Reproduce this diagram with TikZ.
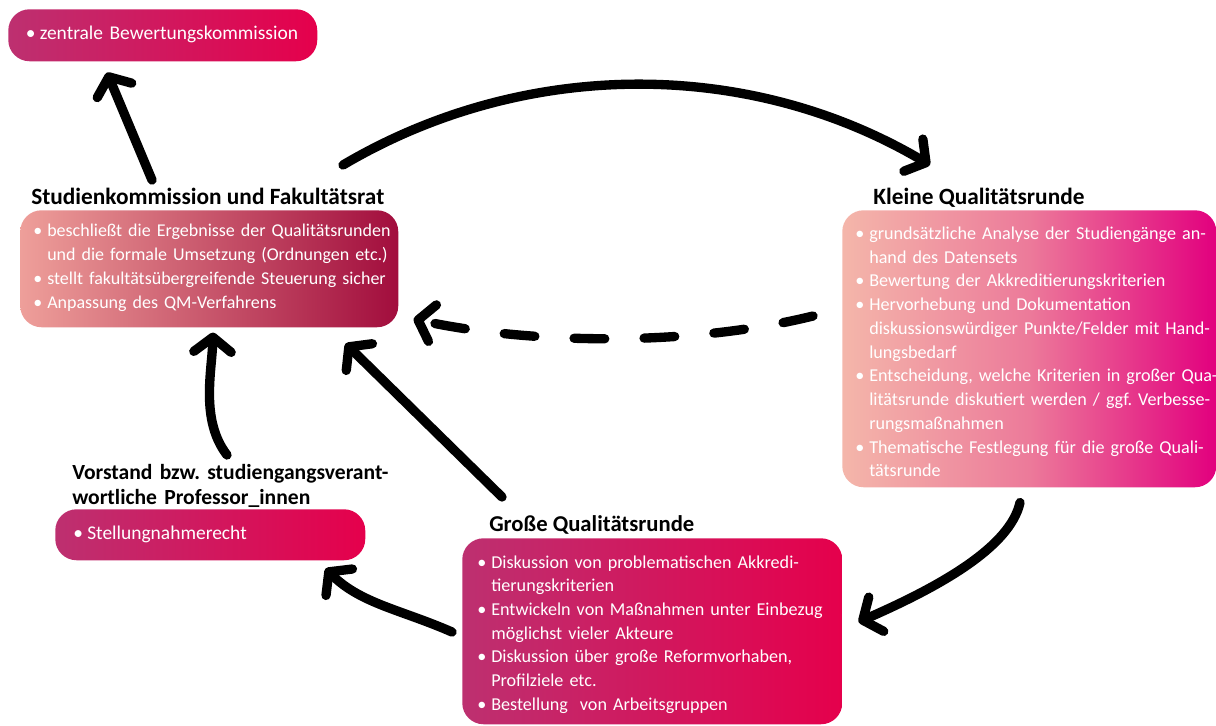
\documentclass[tikz,border=0pt]{standalone}
\usepackage{fontspec}
\setmainfont{Carlito}
\usetikzlibrary{arrows.meta}

\definecolor{qlila}{HTML}{BD3070}
\definecolor{qrot}{HTML}{E5004C}
\definecolor{qlachs}{HTML}{EE9F9A}
\definecolor{qdunkel}{HTML}{A20D3D}
\definecolor{qhell}{HTML}{F4B6AA}
\definecolor{qrosa}{HTML}{EC7A9A}
\definecolor{qmagenta}{HTML}{E2007E}
\definecolor{qpfeil}{HTML}{000000}

% Aufzaehlungspunkt und eingerueckte Folgezeile, jede Zeile ein eigener Absatz
\newcommand{\pkt}{\par\noindent\strut\makebox[10.5pt][l]{\textbullet}}
\newcommand{\zeile}{\par\noindent\strut\hspace*{10.5pt}}

\tikzset{
  kasten/.style={rounded corners=16pt,inner sep=0pt,anchor=north west},
  rund/.style={kasten,left color=qlila,right color=qrot},
  liste/.style={anchor=north west,inner sep=0pt,text=white,text width=330pt,font=\fontsize{#1}{17.8pt}\selectfont},
  liste/.default=14.6pt,
  titel/.style={anchor=base west,inner sep=0pt,font=\fontsize{#1}{18.8pt}\selectfont\bfseries},
  titel/.default=17.5pt,
  pfeil/.style={qpfeil,line width=7pt,line cap=round,line join=round,-{Straight Barb[round,length=11pt,width=28pt]}},
  gestrichelt/.style={pfeil,dash pattern=on 23pt off 29.5pt},
}

\begin{document}
\begin{tikzpicture}[x=0.75pt,y=-0.75pt]
  \useasboundingbox (0,0) rectangle (1216,725);
  % Kaesten
  \node[rund,minimum width=309*0.75pt,minimum height=52*0.75pt] (zentral) at (8,9) {};
  \node[kasten,left color=qlachs,right color=qdunkel,minimum width=378*0.75pt,minimum height=117*0.75pt] (studien) at (20,210) {};
  \node[kasten,left color=qhell,right color=qmagenta,middle color=qrosa,minimum width=374*0.75pt,minimum height=277*0.75pt] (kleine) at (842,210) {};
  \node[rund,minimum width=380*0.75pt,minimum height=186*0.75pt] (grosse) at (462,538) {};
  \node[rund,minimum width=310*0.75pt,minimum height=51*0.75pt] (vorstand) at (55,509) {};

  % Ueberschriften
  \node[titel] (studientitel) at (31,204) {Studienkommission und Fakultätsrat};
  \node[titel] (kleinetitel) at (873,204) {Kleine Qualitätsrunde};
  \node[titel=17pt] (grossetitel) at (489,531) {Große Qualitätsrunde};
  \node[titel=16.2pt,anchor=north west,text width=300pt] (vorstandtitel) at (72,461.5)
    {\noindent\strut Vorstand bzw.\ studiengangsverant-\par\noindent\strut wortliche Professor\_innen};

  % Inhalte
  \node[liste] (zentraltext) at (25.5,15.4) {\pkt zentrale Bewertungskommission};
  \node[liste,font=\fontsize{13.5pt}{18pt}\selectfont] (studientext) at (33,212.4) {%
    \pkt beschließt die Ergebnisse der Qualitätsrunden
    \zeile und die formale Umsetzung (Ordnungen etc.)
    \pkt stellt fakultätsübergreifende Steuerung sicher
    \pkt Anpassung des QM-Verfahrens};
  \node[liste=13.6pt] (kleinetext) at (855,215.4) {%
    \pkt grundsätzliche Analyse der Studiengänge an-
    \zeile hand des Datensets
    \pkt Bewertung der Akkreditierungskriterien
    \pkt Hervorhebung und Dokumentation
    \zeile diskussionswürdiger Punkte/Felder mit Hand-
    \zeile lungsbedarf
    \pkt Entscheidung, welche Kriterien in großer Qua-
    \zeile litätsrunde diskutiert werden / ggf.\ Verbesse-
    \zeile rungsmaßnahmen
    \pkt Thematische Festlegung für die große Quali-
    \zeile tätsrunde};
  \node[liste=13.6pt] (grossetext) at (477,544) {%
    \pkt Diskussion von problematischen Akkredi-
    \zeile tierungskriterien
    \pkt Entwickeln von Maßnahmen unter Einbezug
    \zeile möglichst vieler Akteure
    \pkt Diskussion über große Reformvorhaben,
    \zeile Profilziele etc.
    \pkt Bestellung\ \ von Arbeitsgruppen};
  \node[liste] (vorstandtext) at (73,515.4) {\pkt Stellungnahmerecht};

  % Pfeile
  \draw[pfeil] ([shift={(121,-24)}]studientitel.base west) -- ([shift={(99,11)}]zentral.south west);
  \draw[pfeil] ([shift={(312,-39)}]studientitel.base west) .. controls +(181,-107) and +(-181,-107) .. ([shift={(57,-39)}]kleinetitel.base west);
  \draw[gestrichelt] ([shift={(-29,106)}]kleine.north west) .. controls +(-130,32) and +(110,24) .. ([shift={(15,109)}]studien.north east);
  \draw[pfeil] ([shift={(13,-34)}]grossetitel.base west) -- ([shift={(-53,16)}]studien.south east);
  \draw[pfeil] ([shift={(155,-6.5)}]vorstandtitel.north west) .. controls +(-27,-35) and +(-1,38) .. ([shift={(193,5)}]studien.south west);
  \draw[pfeil] ([shift={(178,15)}]kleine.south west) .. controls +(-10,45) and +(80,-35) .. ([shift={(16,84)}]grosse.north east);
  \draw[pfeil] ([shift={(-10,94)}]grosse.north west) .. controls +(-50,-22) and +(35,35) .. ([shift={(-40,8)}]vorstand.south east);
\end{tikzpicture}
\end{document}
